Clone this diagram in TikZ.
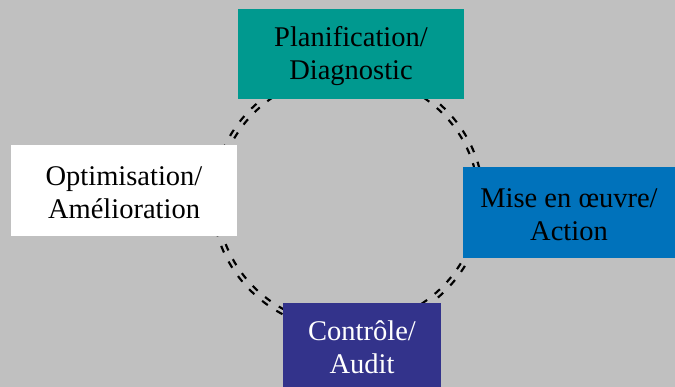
\documentclass[tikz,border=0pt]{standalone}
\usepackage{fontspec}
\setmainfont{Liberation Serif}
\definecolor{bggray}{RGB}{192,192,192}
\definecolor{teal1}{RGB}{0,153,143}
\definecolor{blue1}{RGB}{0,114,187}
\definecolor{purple1}{RGB}{51,51,139}
\newcommand{\lowstrut}{\rule{0pt}{24pt}}
\tikzset{
  stagebox/.style={rectangle, inner sep=0pt, align=center,
    font=\fontsize{28.5}{33}\selectfont},
  cycleline/.style={draw=black, line width=7pt, dash pattern=on 7pt off 10pt},
  cyclegap/.style={draw=bggray, line width=2.4pt},
}
\begin{document}
\begin{tikzpicture}[x=1pt,y=-1pt]
\fill[bggray] (0,0) rectangle (675,387);
\useasboundingbox (0,0) rectangle (675,387);
\clip (0,0) rectangle (675,387);
\coordinate (c) at (348,200);
\draw[cycleline] (c) ellipse [x radius=133, y radius=128];
\draw[cyclegap] (c) ellipse [x radius=133, y radius=128];
\node[stagebox, fill=teal1, minimum width=226, minimum height=90] (plan) at (351,54) {\lowstrut Planification/\\Diagnostic};
\node[stagebox, fill=blue1, minimum width=212, minimum height=91] (act) at (569,212.5) {\lowstrut Mise en œuvre/\\Action};
\node[stagebox, fill=purple1, text=white, minimum width=158, minimum height=84] (ctrl) at (362,345) {\lowstrut Contrôle/\\Audit};
\node[stagebox, fill=white, minimum width=226, minimum height=91] (opt) at (124,190.5) {\lowstrut Optimisation/\\Amélioration};
\end{tikzpicture}
\end{document}
